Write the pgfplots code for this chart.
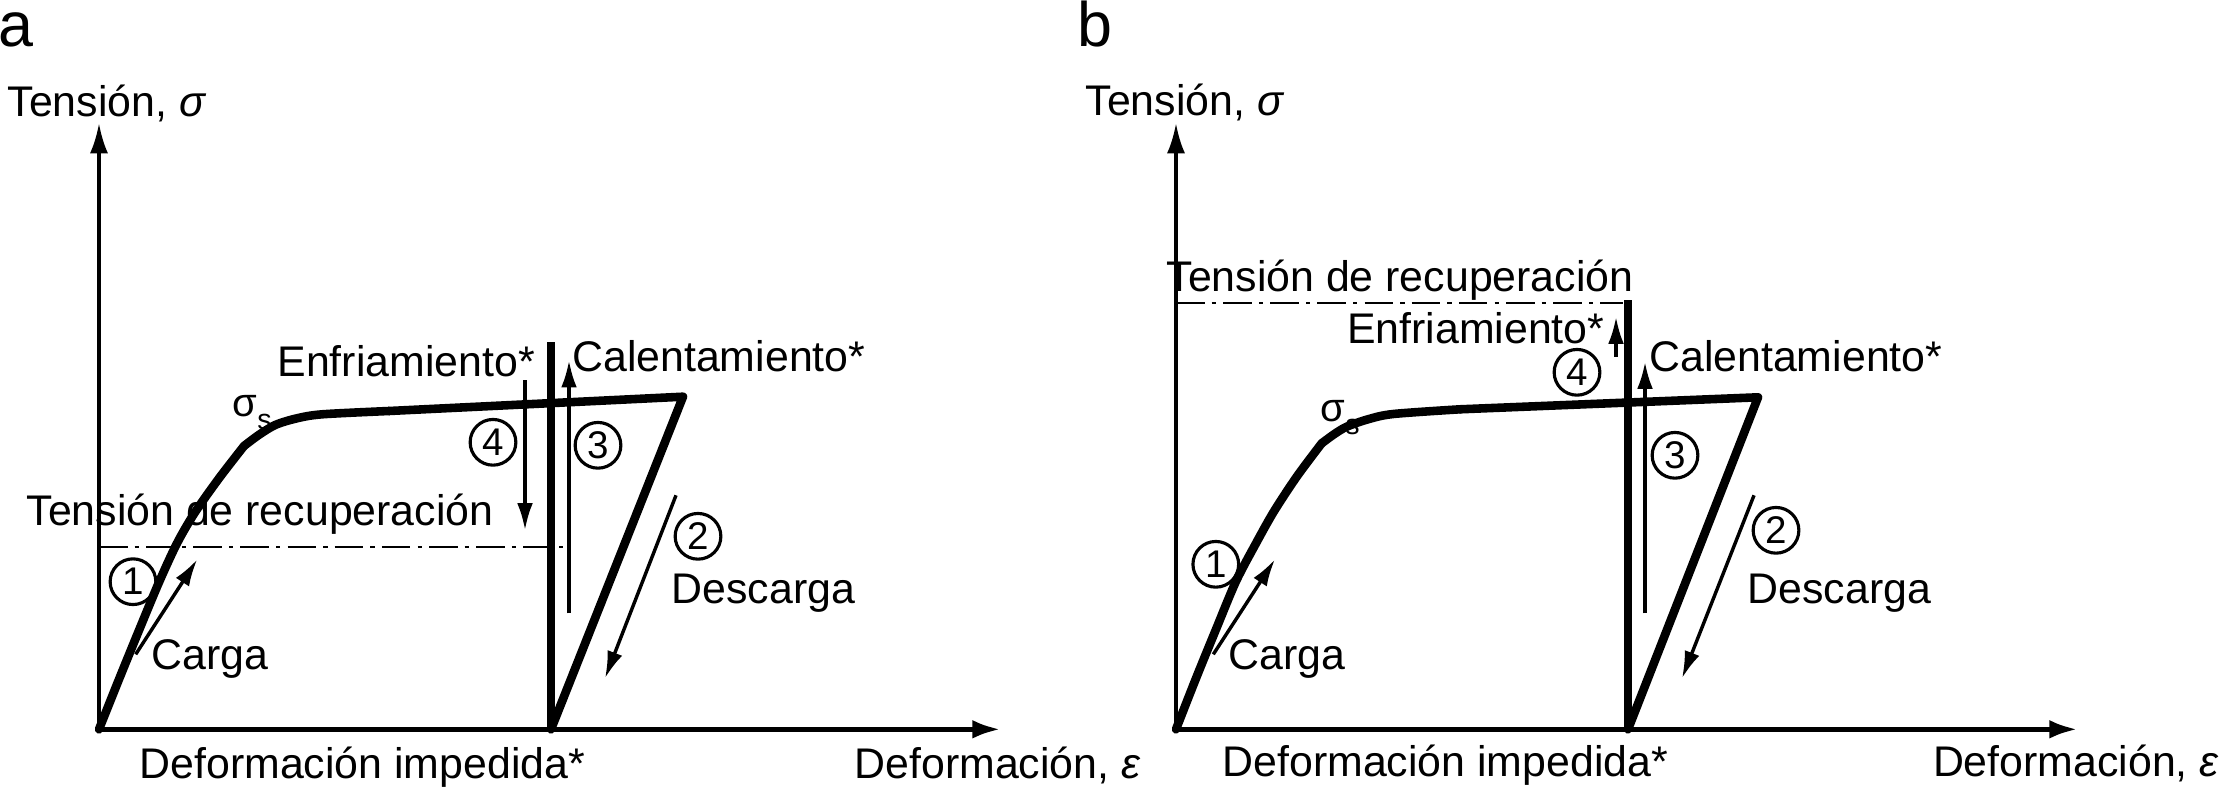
\documentclass[border=0pt]{standalone}
\usepackage{pgfplots}
\pgfplotsset{compat=1.18}
\usepackage{fontspec}
\setmainfont{Liberation Sans}
\usetikzlibrary{arrows.meta}
\newcommand\lbl{\fontsize{15}{18}\selectfont}
\pgfplotsset{
  schem/.style={
    x=0.35pt, y=0.35pt,
    xmin=0, xmax=902, ymin=0, ymax=606,
    axis lines=left,
    enlargelimits=false,
    xtick=\empty, ytick=\empty,
    clip=false,
    x axis line style={line width=1.9pt, -{Latex[length=10pt,width=6.5pt]}},
    y axis line style={line width=1.2pt, -{Latex[length=10.5pt,width=6.3pt]}},
  },
  curve/.style={line width=3pt, line join=round, line cap=round, black, no marks},
  vline/.style={line width=2.6pt, black, no marks},
  dashdot/.style={line width=0.7pt, black, no marks, dash pattern=on 10pt off 2.5pt on 1.5pt off 2.5pt},
  thinarr/.style={line width=1.2pt, black, no marks, -{Latex[length=9.5pt,width=5.5pt]}},
}
\tikzset{
  num/.style={circle, draw, line width=1.1pt, minimum size=16pt, inner sep=0pt, font=\fontsize{13.5}{13.5}\selectfont},
  txt/.style={anchor=base west, inner sep=0pt, font=\lbl},
  sig/.style={anchor=base west, inner sep=0pt, font=\fontsize{14}{14}\selectfont},
}
\begin{document}
\begin{tikzpicture}
\useasboundingbox (-34.65pt,-20.2pt) rectangle (744.45pt,255.26pt);
% ---------------- panel a ----------------
\begin{axis}[schem]
\addplot[dashdot] coordinates {(0,182.6) (466,182.6)};
\addplot[curve, smooth, tension=0.5] coordinates {(0,0) (20,50) (40,99) (60,147) (78,186) (96,217) (120,251) (145,283.3)};
\addplot[curve, smooth, tension=0.5] coordinates {(145,283.3) (160,294.5) (176.7,304.5) (198,311) (223.3,315) (290,318.3)};
\addplot[curve] coordinates {(290,318.3) (584,332.6) (452,0)};
\addplot[vline] coordinates {(452,0) (452,387)};
\addplot[thinarr] coordinates {(36.7,75) (98.3,170)};
\addplot[thinarr] coordinates {(426,349) (426,199)};
\addplot[thinarr] coordinates {(470,116) (470,369)};
\addplot[thinarr] coordinates {(577,234) (506,51)};
\node[num] at (axis cs:34,147.6) {1};
\node[num] at (axis cs:599,193) {2};
\node[num] at (axis cs:499,284) {3};
\node[num] at (axis cs:394,287) {4};
\node[txt, font=\fontsize{22}{22}\selectfont] at (axis cs:-101,683) {a};
\node[txt] at (axis cs:-92,612.6) {Tensión, \textit{σ}};
\node[txt] at (axis cs:-73,204) {Tensión de recuperación};
\node[txt] at (axis cs:178,352.6) {Enfriamiento*};
\node[txt] at (axis cs:472.7,357.6) {Calentamiento*};
\node[sig] at (axis cs:133,312.6) {σ\raisebox{-0.6ex}{\fontsize{10}{10}\selectfont s}};
\node[txt] at (axis cs:51.7,60) {Carga};
\node[txt] at (axis cs:572,126) {Descarga};
\node[txt] at (axis cs:40,-48.7) {Deformación impedida*};
\node[txt] at (axis cs:755,-48.7) {Deformación, \textit{ε}};
\end{axis}
% ---------------- panel b ----------------
\begin{axis}[schem, at={(376.95pt,0pt)}]
\addplot[dashdot] coordinates {(0,426) (447,426)};
\addplot[curve, smooth, tension=0.5] coordinates {(0,0) (20,51) (40,100) (60,148) (80,186) (98,218) (121,253) (145.7,286)};
\addplot[curve, smooth, tension=0.5] coordinates {(145.7,286) (158,295) (170.7,302.6) (192,310) (217.3,315.3) (284,320)};
\addplot[curve] coordinates {(284,320) (582,332) (452,0)};
\addplot[vline] coordinates {(452,0) (452,429)};
\addplot[thinarr] coordinates {(37.3,75) (99,170)};
\addplot[thinarr] coordinates {(440,372.6) (440,412.6)};
\addplot[thinarr] coordinates {(469,116) (469,367.6)};
\addplot[thinarr] coordinates {(578,234) (506,51)};
\node[num] at (axis cs:39.8,165) {1};
\node[num] at (axis cs:600,199) {2};
\node[num] at (axis cs:499,274) {3};
\node[num] at (axis cs:401,357) {4};
\node[txt, font=\fontsize{22}{22}\selectfont] at (axis cs:-98.6,683) {b};
\node[txt] at (axis cs:-91,614) {Tensión, \textit{σ}};
\node[txt] at (axis cs:-10,437.6) {Tensión de recuperación};
\node[txt] at (axis cs:170.5,386) {Enfriamiento*};
\node[txt] at (axis cs:472.7,357.6) {Calentamiento*};
\node[sig] at (axis cs:144,307.6) {σ\raisebox{-0.6ex}{\fontsize{10}{10}\selectfont s}};
\node[txt] at (axis cs:52,60) {Carga};
\node[txt] at (axis cs:571,126) {Descarga};
\node[txt] at (axis cs:46,-47.4) {Deformación impedida*};
\node[txt] at (axis cs:756.4,-47.4) {Deformación, \textit{ε}};
\end{axis}
\end{tikzpicture}
\end{document}
